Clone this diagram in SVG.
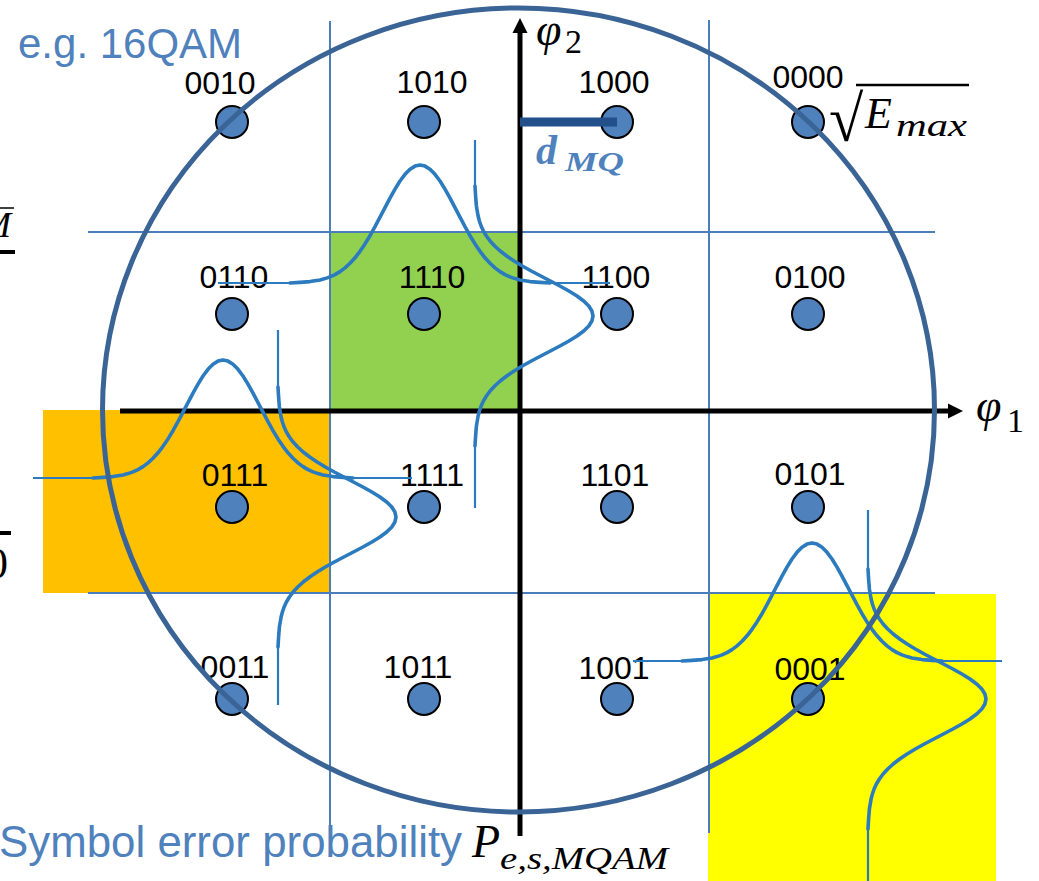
<svg xmlns="http://www.w3.org/2000/svg" xmlns:xlink="http://www.w3.org/1999/xlink" width="1039" height="881" viewBox="0 0 1039 881">
<style>
.grid{stroke:#4A7EBB;stroke-width:2;fill:none}
.axis{stroke:#000;stroke-width:5;fill:none}
.pt{fill:#4F81BD;stroke:#000;stroke-width:2}
.lbl{font-family:"Liberation Sans",Arial,sans-serif;font-size:32px;fill:#000;text-anchor:middle}
.bell{fill:none;stroke:#2B7BBE;stroke-width:3.6;stroke-linejoin:round;stroke-linecap:round}
.tail{fill:none;stroke:#2B7BBE;stroke-width:2.2}
.blue{font-family:"Liberation Sans",Arial,sans-serif;fill:#4F81BD}
.math{font-family:"Liberation Serif","Times New Roman",serif;font-style:italic;fill:#000}
.up{font-family:"Liberation Serif","Times New Roman",serif;fill:#000}
.dmq{font-family:"Liberation Serif","Times New Roman",serif;font-style:italic;font-weight:bold;fill:#4F81BD}
</style>
<defs>
<marker id="arr" viewBox="0 0 10 10" refX="0" refY="5" markerWidth="3" markerHeight="3.6" orient="auto" markerUnits="strokeWidth">
<path d="M0,0 L10,5 L0,10 Z" fill="#000"/>
</marker>
<path id="bellshape" d="M-130,0 L-120,-0.6 L-110,-1.4 L-100,-3.1 L-95,-4.4 L-90,-6.1 L-85,-8.4 L-80,-11.4 L-75,-15.1 L-70,-19.7 L-65,-25.2 L-60,-31.7 L-55,-39.1 L-50,-47.3 L-45,-56.3 L-40,-65.8 L-35,-75.4 L-30,-84.9 L-25,-93.9 L-20,-102 L-15,-108.7 L-10,-113.8 L-5,-116.9 L0,-118 L5,-116.9 L10,-113.8 L15,-108.7 L20,-102 L25,-93.9 L30,-84.9 L35,-75.4 L40,-65.8 L45,-56.3 L50,-47.3 L55,-39.1 L60,-31.7 L65,-25.2 L70,-19.7 L75,-15.1 L80,-11.4 L85,-8.4 L90,-6.1 L95,-4.4 L100,-3.1 L110,-1.4 L120,-0.6 L130,0"/>
</defs>
<rect width="1039" height="881" fill="#fff"/>

<g id="regions">
<rect x="43" y="410" width="287" height="183" fill="#FFC000"/>
<rect x="330" y="232" width="190" height="179" fill="#92D050"/>
<rect x="708" y="594" width="288" height="287" fill="#FFFF00"/>
</g>

<g id="grid">
<line class="grid" x1="330" y1="21" x2="330" y2="838"/>
<line class="grid" x1="709" y1="20" x2="709" y2="833"/>
<line class="grid" x1="88" y1="232" x2="935" y2="232"/>
<line class="grid" x1="88" y1="593" x2="935" y2="593"/>
</g>

<g id="connectors">
<line class="axis" x1="120" y1="411" x2="948" y2="411" marker-end="url(#arr)"/>
<line class="axis" x1="520" y1="836" x2="520" y2="33" marker-end="url(#arr)"/>
</g>

<g id="labels">
<text class="lbl" x="220" y="94">0010</text>
<text class="lbl" x="432" y="93">1010</text>
<text class="lbl" x="614" y="93">1000</text>
<text class="lbl" x="808" y="88">0000</text>
<text class="lbl" x="234" y="288">0110</text>
<text class="lbl" x="432" y="288">1110</text>
<text class="lbl" x="616" y="288">1100</text>
<text class="lbl" x="810" y="288">0100</text>
<text class="lbl" x="235" y="486">0111</text>
<text class="lbl" x="432" y="486">1111</text>
<text class="lbl" x="615" y="486">1101</text>
<text class="lbl" x="810" y="485">0101</text>
<text class="lbl" x="235" y="678">0011</text>
<text class="lbl" x="418" y="678">1011</text>
<text class="lbl" x="614" y="679">1001</text>
<text class="lbl" x="810" y="680">0001</text>
</g>

<g id="curves">
<g id="curveA-h"><use href="#bellshape" class="bell" transform="translate(420,283)"/><line class="tail" x1="218" y1="283" x2="291" y2="283"/><line class="tail" x1="549" y1="283" x2="610" y2="283"/></g>
<g id="curveA-v"><use href="#bellshape" class="bell" transform="translate(475,316) rotate(90)"/><line class="tail" x1="475" y1="140" x2="475" y2="187"/><line class="tail" x1="475" y1="445" x2="475" y2="508"/></g>
<g id="curveB-h"><use href="#bellshape" class="bell" transform="translate(223,478)"/><line class="tail" x1="33" y1="478" x2="94" y2="478"/><line class="tail" x1="352" y1="478" x2="412" y2="478"/></g>
<g id="curveB-v"><use href="#bellshape" class="bell" transform="translate(278,517) rotate(90)"/><line class="tail" x1="278" y1="330" x2="278" y2="388"/><line class="tail" x1="278" y1="646" x2="278" y2="705"/></g>
<g id="curveC-h"><use href="#bellshape" class="bell" transform="translate(812,661)"/><line class="tail" x1="633" y1="661" x2="683" y2="661"/><line class="tail" x1="941" y1="661" x2="1002" y2="661"/></g>
<g id="curveC-v"><use href="#bellshape" class="bell" transform="translate(868,699) rotate(90)"/><line class="tail" x1="868" y1="510" x2="868" y2="570"/><line class="tail" x1="868" y1="828" x2="868" y2="881"/></g>
</g>

<g id="points">
<circle class="pt" cx="232" cy="122" r="16"/>
<circle class="pt" cx="424" cy="122" r="16"/>
<circle class="pt" cx="617" cy="122" r="16"/>
<circle class="pt" cx="808" cy="122" r="16"/>
<circle class="pt" cx="232" cy="314" r="16"/>
<circle class="pt" cx="424" cy="314" r="16"/>
<circle class="pt" cx="617" cy="314" r="16"/>
<circle class="pt" cx="808" cy="314" r="16"/>
<circle class="pt" cx="232" cy="507" r="16"/>
<circle class="pt" cx="424" cy="507" r="16"/>
<circle class="pt" cx="617" cy="507" r="16"/>
<circle class="pt" cx="808" cy="507" r="16"/>
<circle class="pt" cx="232" cy="699" r="16"/>
<circle class="pt" cx="424" cy="699" r="16"/>
<circle class="pt" cx="617" cy="699" r="16"/>
<circle class="pt" cx="808" cy="699" r="16"/>
</g>

<g id="dmq-bar"><line x1="520" y1="122" x2="617" y2="122" stroke="#22508A" stroke-width="9"/></g>

<g id="boundary"><ellipse cx="518.5" cy="410" rx="416" ry="402" fill="none" stroke="#3B6496" stroke-width="5"/></g>

<g id="texts">
<text class="blue" x="18" y="58" font-size="42">e.g. 16QAM</text>
<text class="blue" x="-1" y="857" font-size="44" textLength="463" lengthAdjust="spacingAndGlyphs">Symbol error probability</text>
<text class="math" x="472" y="857" font-size="46">P</text>
<text class="math" x="500" y="869" font-size="32" textLength="168" lengthAdjust="spacingAndGlyphs">e,s,MQAM</text>
<text class="math" x="536" y="45" font-size="46">φ</text>
<text class="up" x="565" y="53" font-size="34">2</text>
<text class="math" x="976" y="421" font-size="46">φ</text>
<text class="up" x="1007" y="432" font-size="34">1</text>
<text class="dmq" x="536" y="164" font-size="42">d</text>
<text class="dmq" x="565" y="171" font-size="28" textLength="59" lengthAdjust="spacingAndGlyphs">MQ</text>
<text class="up" transform="translate(829,141) scale(1.2,1.25)" x="0" y="0" font-size="52">√</text>
<line x1="856" y1="85" x2="969" y2="85" stroke="#000" stroke-width="2.5"/>
<text class="math" x="865" y="128" font-size="44">E</text>
<text class="math" x="896" y="136" font-size="31" textLength="71" lengthAdjust="spacingAndGlyphs">max</text>
<text class="math" x="-19" y="237" font-size="36">M</text>
<line x1="0" y1="208" x2="14" y2="208" stroke="#000" stroke-width="1.5"/>
<line x1="0" y1="252" x2="15" y2="252" stroke="#000" stroke-width="4"/>
<line x1="0" y1="533" x2="11" y2="533" stroke="#000" stroke-width="4"/>
<text class="up" x="-14" y="578" font-size="44">0</text>
</g>
</svg>
